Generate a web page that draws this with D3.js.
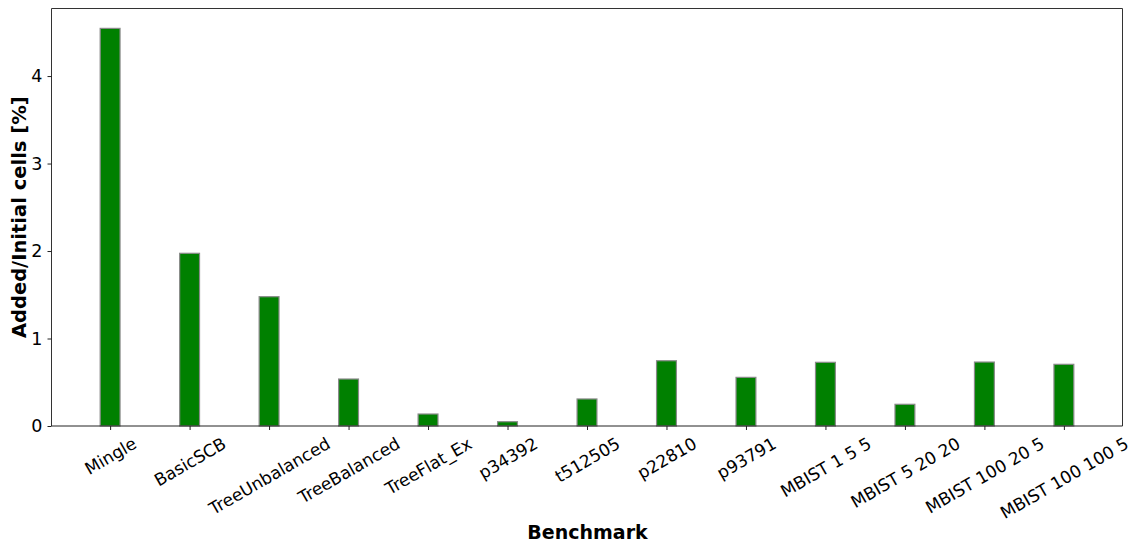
<!DOCTYPE html>
<html>
<head>
<meta charset="utf-8">
<script src="https://cdn.jsdelivr.net/npm/d3@7"></script>
<style>
  html, body { margin: 0; padding: 0; background: #fff; }
  svg { display: block; font-family: "DejaVu Sans", sans-serif; }
</style>
</head>
<body>
<svg id="chart" width="1132" height="542"></svg>
<script>
// Benchmarks and the share of added cells relative to the initial design
const benchmarks = [
  "Mingle", "BasicSCB", "TreeUnbalanced", "TreeBalanced", "TreeFlat_Ex",
  "p34392", "t512505", "p22810", "p93791",
  "MBIST 1 5 5", "MBIST 5 20 20", "MBIST 100 20 5", "MBIST 100 100 5"
];
const addedPercent = [
  4.545, 1.974, 1.478, 0.537, 0.137,
  0.049, 0.309, 0.746, 0.556,
  0.728, 0.248, 0.731, 0.705
];
const yTicks = [0, 1, 2, 3, 4];

const svg = d3.select("#chart");
const plot = { left: 51.5, right: 1122.5, top: 8.5, bottom: 426 };

const barWidth = 0.25;
const n = benchmarks.length;
const pad = (n - 1 + barWidth) * 0.05;
const x = d3.scaleLinear()
  .domain([-barWidth / 2 - pad, n - 1 + barWidth / 2 + pad])
  .range([plot.left, plot.right]);
const yMax = d3.max(addedPercent) * 1.05;
const y = d3.scaleLinear().domain([0, yMax]).range([plot.bottom, plot.top]);

// bars
svg.append("g").selectAll("rect")
  .data(addedPercent)
  .join("rect")
  .attr("x", (d, i) => x(i - barWidth / 2))
  .attr("width", (d, i) => x(i + barWidth / 2) - x(i - barWidth / 2))
  .attr("y", d => y(d))
  .attr("height", d => y(0) - y(d))
  .attr("fill", "#008000")
  .attr("stroke", "#8a8a8a")
  .attr("stroke-width", 1.2);

// frame
const frame = svg.append("g").attr("fill", "none").attr("stroke-width", 1);
frame.append("line").attr("x1", plot.left).attr("x2", plot.right)
  .attr("y1", plot.top).attr("y2", plot.top).attr("stroke", "#333");
frame.append("line").attr("x1", plot.right).attr("x2", plot.right)
  .attr("y1", plot.top).attr("y2", plot.bottom).attr("stroke", "#333");
frame.append("line").attr("x1", plot.left).attr("x2", plot.left)
  .attr("y1", plot.top).attr("y2", plot.bottom).attr("stroke", "#333");
frame.append("line").attr("x1", plot.left).attr("x2", plot.right)
  .attr("y1", plot.bottom).attr("y2", plot.bottom).attr("stroke", "#222");

const fs = 17;

// y axis
const yAxis = d3.axisLeft(y).tickValues(yTicks).tickFormat(d3.format("d"))
  .tickSize(4).tickPadding(5);
const gy = svg.append("g").attr("transform", `translate(${plot.left},0)`).call(yAxis);
gy.select(".domain").remove();
gy.selectAll(".tick line").attr("stroke", "#222");
gy.selectAll(".tick text").attr("font-size", 17.5).attr("fill", "#000")
  .attr("font-family", "DejaVu Sans, sans-serif");

// x axis with rotated labels
const xAxis = d3.axisBottom(x).tickValues(d3.range(n)).tickFormat(i => benchmarks[i])
  .tickSize(4).tickPadding(0);
const gx = svg.append("g").attr("transform", `translate(0,${plot.bottom})`).call(xAxis);
gx.select(".domain").remove();
gx.selectAll(".tick line").attr("stroke", "#222");
const angle = 30 * Math.PI / 180;
gx.selectAll(".tick text")
  .attr("font-size", fs).attr("fill", "#000")
  .attr("font-family", "DejaVu Sans, sans-serif")
  .attr("text-anchor", "middle")
  .attr("dy", "0.35em")
  .each(function () {
    const w = this.getComputedTextLength();
    const h = fs * 1.15;
    const bboxH = w * Math.sin(angle) + h * Math.cos(angle);
    const cy = 4 + 3.5 + bboxH / 2;
    d3.select(this).attr("y", 0)
      .attr("transform", `translate(0,${cy}) rotate(-30)`);
  });

// axis titles
svg.append("text")
  .attr("x", (plot.left + plot.right) / 2 + 0.5)
  .attr("y", 539)
  .attr("text-anchor", "middle")
  .attr("font-size", 19).attr("font-weight", "bold")
  .text("Benchmark");

svg.append("text")
  .attr("transform", `translate(26,${(plot.top + plot.bottom) / 2}) rotate(-90)`)
  .attr("text-anchor", "middle")
  .attr("font-size", 19.5).attr("font-weight", "bold")
  .text("Added/Initial cells [%]");
</script>
</body>
</html>
